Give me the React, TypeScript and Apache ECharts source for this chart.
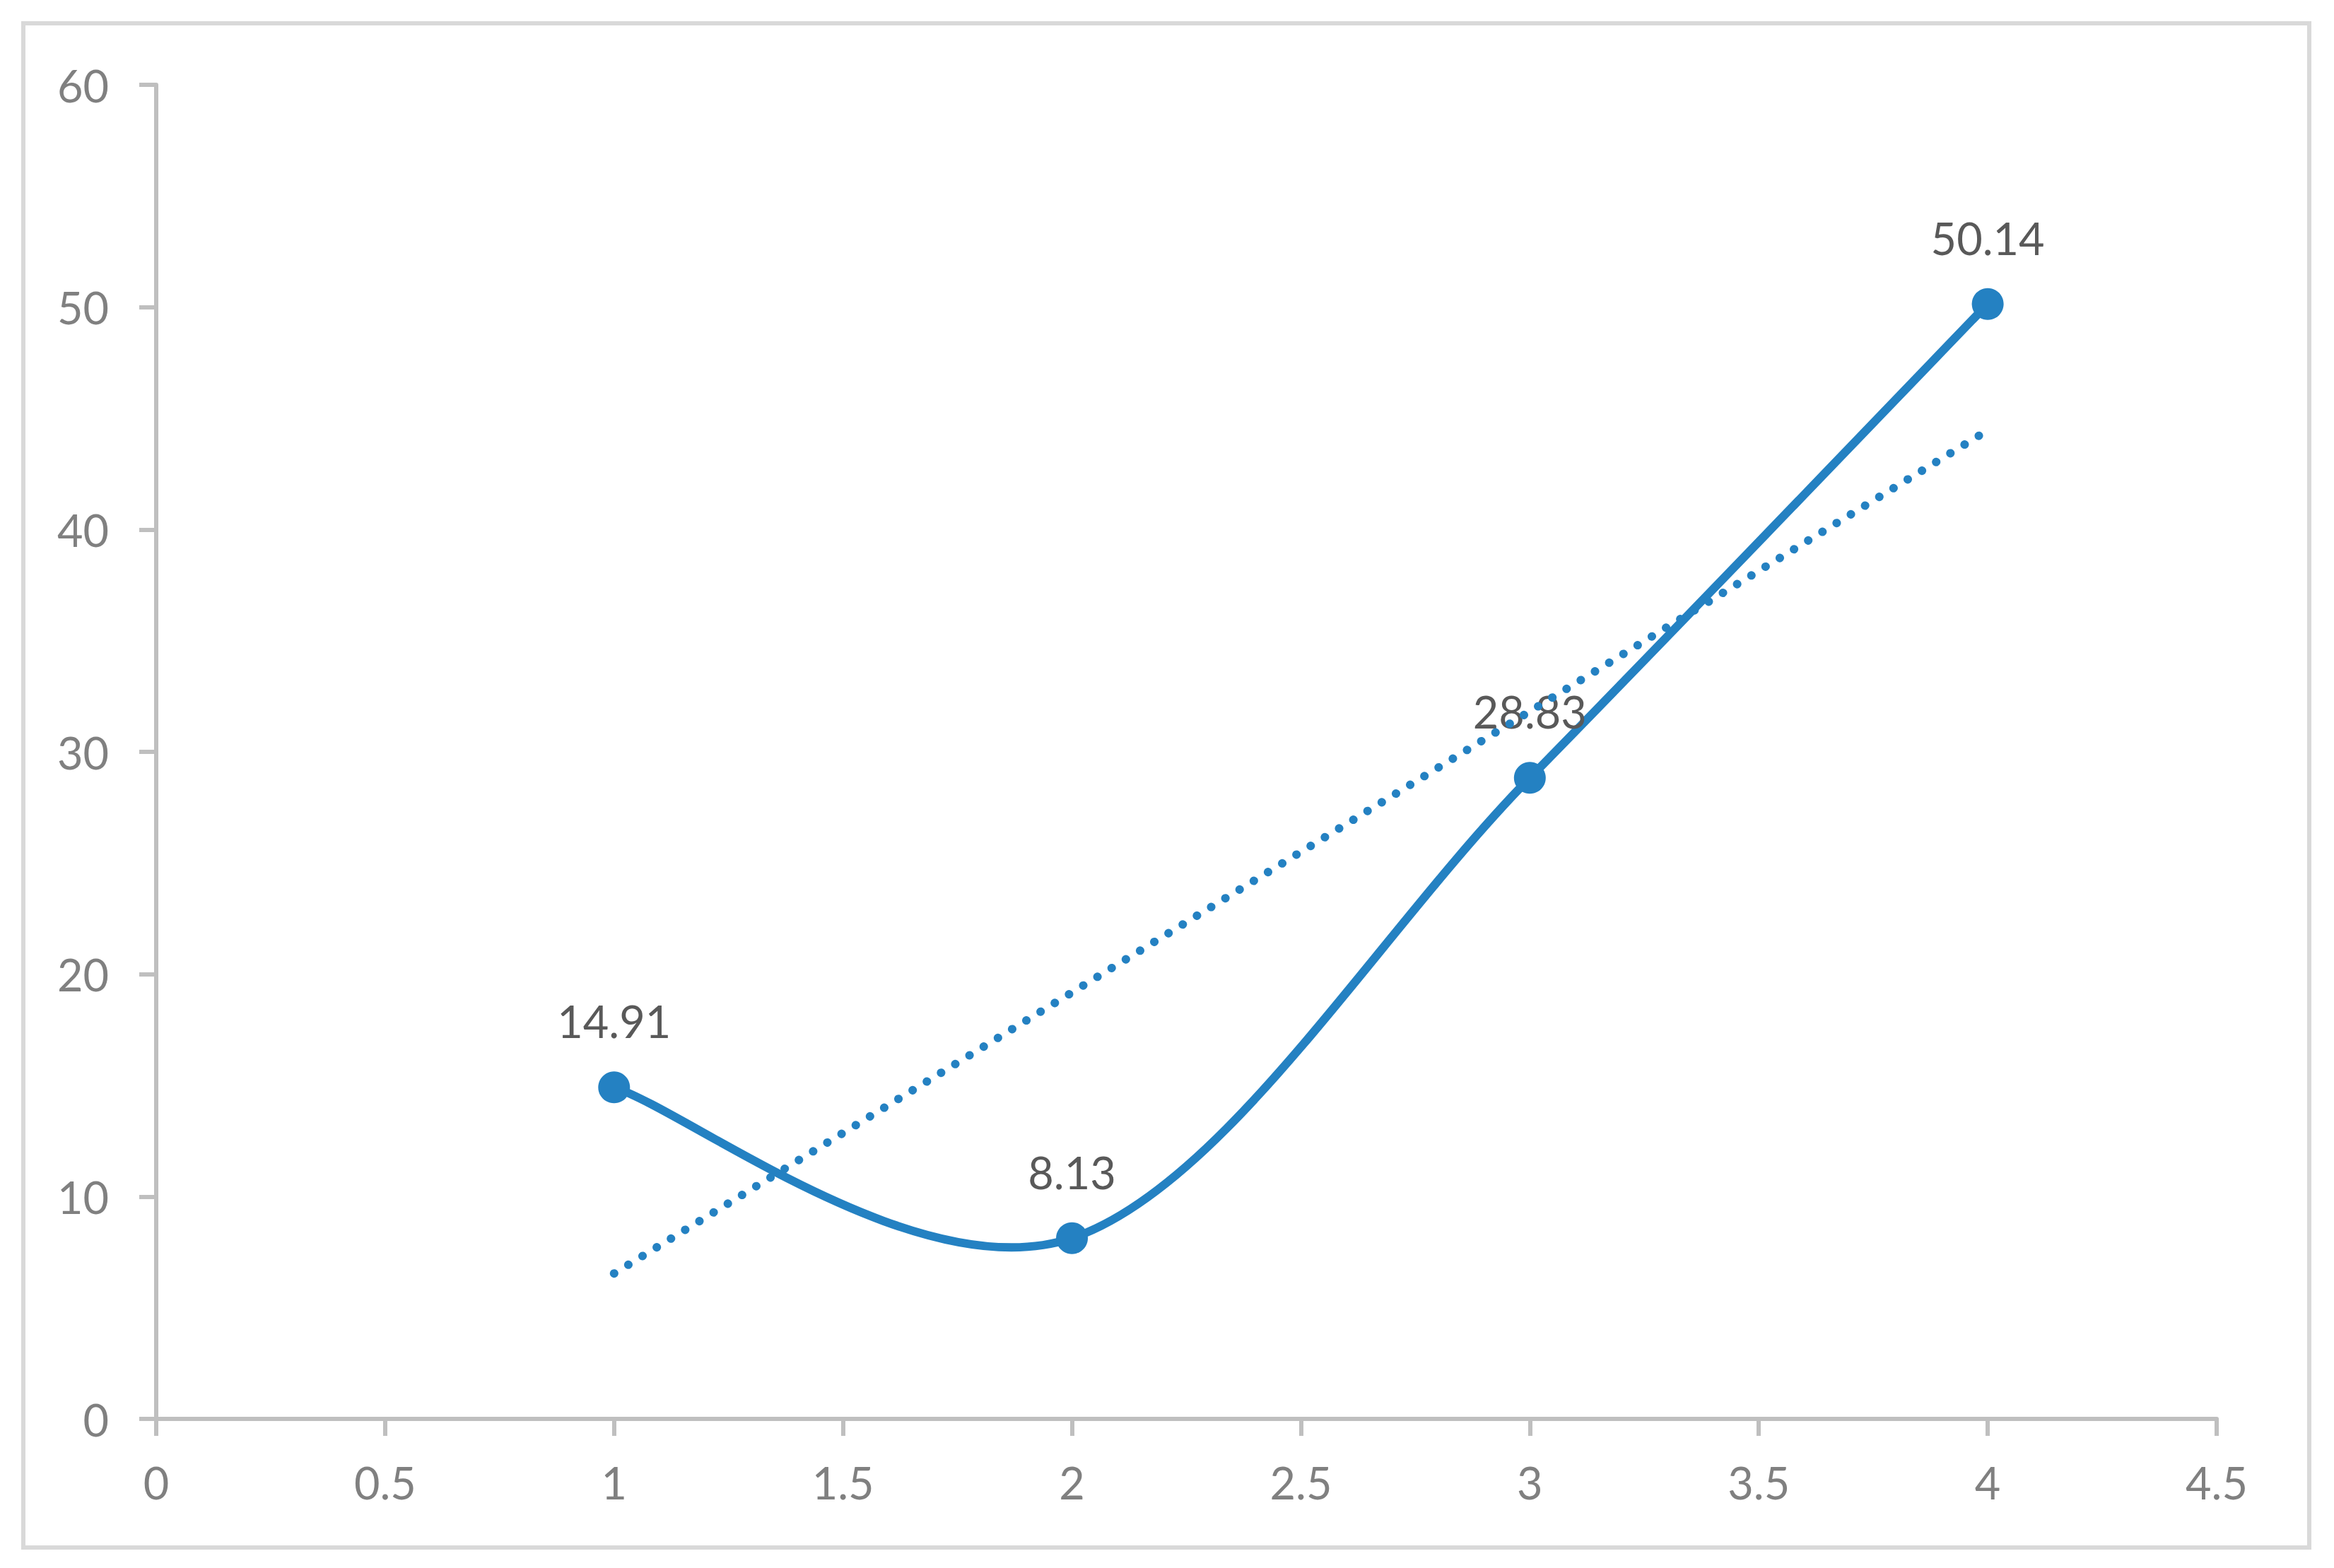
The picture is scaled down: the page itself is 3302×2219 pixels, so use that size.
import React, { useEffect, useRef } from "react";
import * as echarts from "echarts";

const xValues = [1, 2, 3, 4];
const yValues = [14.91, 8.13, 28.83, 50.14];
const trendX = [1, 4];
const trendY = [6.54, 44.46];

const LINE_COLOR = "#2481C2";
const FONT = "Lato";

export default function App() {
  const ref = useRef<HTMLDivElement>(null);
  useEffect(() => {
    if (!ref.current) return;
    const chart = echarts.init(ref.current, null, { renderer: "svg" });
    const seriesData = xValues.map((x, i) => [x, yValues[i]]);
    const trendData = trendX.map((x, i) => [x, trendY[i]]);

    // Excel-style smoothed line: cubic Bezier with control points at P ± (Pnext - Pprev) / 6
    const renderCurve = (params: any, api: any) => {
      if (params.dataIndex !== 0) return null;
      const pts = xValues.map((x, i) => api.coord([x, yValues[i]]));
      const n = pts.length;
      const children: any[] = [];
      for (let i = 0; i < n - 1; i++) {
        const p0 = pts[Math.max(i - 1, 0)];
        const p1 = pts[i];
        const p2 = pts[i + 1];
        const p3 = pts[Math.min(i + 2, n - 1)];
        children.push({
          type: "bezierCurve",
          shape: {
            x1: p1[0],
            y1: p1[1],
            cpx1: p1[0] + (p2[0] - p0[0]) / 6,
            cpy1: p1[1] + (p2[1] - p0[1]) / 6,
            cpx2: p2[0] - (p3[0] - p1[0]) / 6,
            cpy2: p2[1] - (p3[1] - p1[1]) / 6,
            x2: p2[0],
            y2: p2[1],
          },
          style: { stroke: LINE_COLOR, lineWidth: 12, fill: null },
        });
      }
      return { type: "group", children };
    };

    chart.setOption({
      animation: false,
      backgroundColor: "#ffffff",
      grid: { left: 221, right: 166, top: 120, bottom: 211, containLabel: false },
      graphic: [
        {
          type: "rect",
          shape: { x: 33, y: 33, width: 3234, height: 2157 },
          style: { fill: "none", stroke: "#d9d9d9", lineWidth: 6 },
          z: 0,
        },
      ],
      xAxis: {
        type: "value",
        min: 0,
        max: 4.5,
        interval: 0.5,
        axisLine: { show: true, onZero: false, lineStyle: { color: "#bfbfbf", width: 6 } },
        axisTick: { show: true, inside: false, length: 24, lineStyle: { color: "#bfbfbf", width: 6 } },
        splitLine: { show: false },
        axisLabel: { color: "#808080", fontSize: 63, fontFamily: FONT, margin: 58 },
      },
      yAxis: {
        type: "value",
        min: 0,
        max: 60,
        interval: 10,
        axisLine: { show: true, onZero: false, lineStyle: { color: "#bfbfbf", width: 6 } },
        axisTick: { show: true, inside: false, length: 24, lineStyle: { color: "#bfbfbf", width: 6 } },
        splitLine: { show: false },
        axisLabel: { color: "#808080", fontSize: 63, fontFamily: FONT, margin: 67 },
      },
      series: [
        {
          type: "custom",
          coordinateSystem: "cartesian2d",
          data: seriesData,
          renderItem: renderCurve,
          encode: { x: 0, y: 1 },
          silent: true,
          z: 2,
        },
        {
          type: "scatter",
          data: seriesData,
          symbol: "circle",
          symbolSize: 45,
          itemStyle: { color: LINE_COLOR, opacity: 1 },
          label: {
            show: true,
            position: "top",
            distance: 40,
            color: "#595959",
            opacity: 1,
            fontSize: 63,
            fontFamily: FONT,
            formatter: (p: any) => String(p.value[1]),
          },
          z: 3,
        },
        {
          type: "line",
          data: trendData,
          symbol: "none",
          lineStyle: { color: LINE_COLOR, width: 12, type: [0.1, 23.5], cap: "round" },
          z: 5,
        },
      ],
    });
    return () => chart.dispose();
  }, []);
  return (
    <div
      ref={ref}
      style={{ position: "absolute", left: 0, top: 0, width: 3302, height: 2219 }}
    />
  );
}
